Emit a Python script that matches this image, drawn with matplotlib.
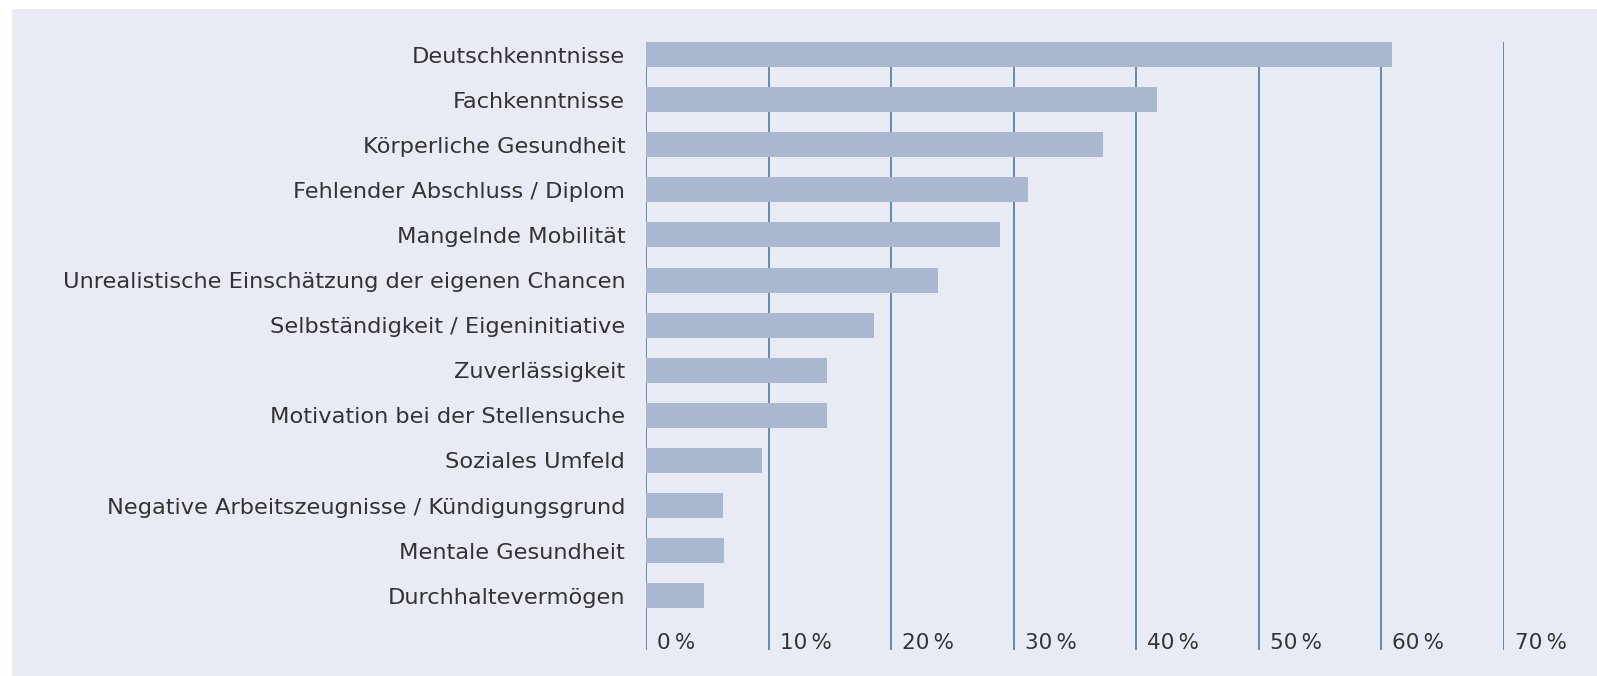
import matplotlib
matplotlib.use("Agg")
import matplotlib.pyplot as plt
from matplotlib.patches import Rectangle

categories = [
    "Deutschkenntnisse",
    "Fachkenntnisse",
    "Körperliche Gesundheit",
    "Fehlender Abschluss / Diplom",
    "Mangelnde Mobilität",
    "Unrealistische Einschätzung der eigenen Chancen",
    "Selbständigkeit / Eigeninitiative",
    "Zuverlässigkeit",
    "Motivation bei der Stellensuche",
    "Soziales Umfeld",
    "Negative Arbeitszeugnisse / Kündigungsgrund",
    "Mentale Gesundheit",
    "Durchhaltevermögen",
]
values = [60.9, 41.7, 37.3, 31.2, 28.9, 23.8, 18.6, 14.8, 14.8, 9.5, 6.3, 6.4, 4.7]
ticks = [0, 10, 20, 30, 40, 50, 60, 70]
tick_labels = ["0\u2009%", "10\u2009%", "20\u2009%", "30\u2009%",
               "40\u2009%", "50\u2009%", "60\u2009%", "70\u2009%"]

bg = "#e8ebf3"
bar_color = "#a9b8d0"
line_color = "#4f79a6"
text_color = "#333333"

plt.rcParams['font.family'] = ['DejaVu Sans']

W, H = 1597, 676
fig = plt.figure(figsize=(W / 100, H / 100), dpi=100)
fig.patch.set_facecolor(bg)
# white strips on top and left edge
fig.add_artist(Rectangle((0, 0), 11 / W, 1, transform=fig.transFigure, color="white", zorder=0))
fig.add_artist(Rectangle((0, 1 - 8 / H), 1, 8 / H, transform=fig.transFigure, color="white", zorder=0))

x0, x70 = 646, 1504
top, bottom = 42, 650
ax = fig.add_axes([x0 / W, 1 - bottom / H, (x70 - x0) / W, (bottom - top) / H])
ax.set_facecolor("none")
for s in ax.spines.values():
    s.set_visible(False)

bar_h = 0.555
ypos = list(range(len(categories)))
ylo = -bar_h / 2
yhi = (bottom - 55) / 45.07
ax.set_xlim(0, 70)
ax.set_ylim(yhi, ylo)

ax.vlines(ticks, ylo, yhi, color=line_color, lw=1.2, zorder=1)
ax.barh(ypos, values, height=bar_h, color=bar_color, zorder=2)

ax.set_xticks([])
ax.set_yticks(ypos)
ax.set_yticklabels(categories, fontsize=16.2, color=text_color)
ax.tick_params(axis="y", length=0, pad=15)

for t, lab in zip(ticks, tick_labels):
    ax.text(t + 0.9, (643 - 55) / 45.07, lab, fontsize=15.5, color=text_color,
            va="center", ha="left", zorder=3)

fig.savefig("out.png", dpi=100, facecolor=fig.get_facecolor())
